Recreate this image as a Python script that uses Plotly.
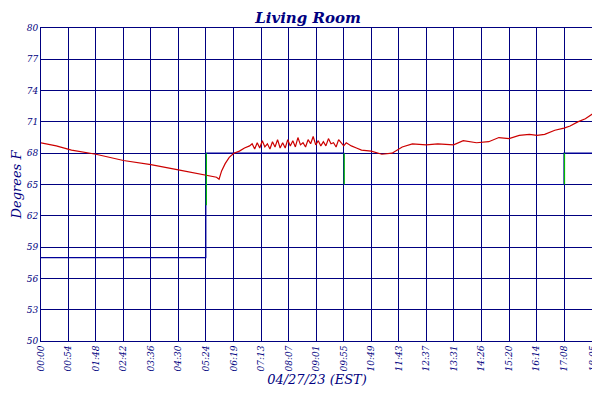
import plotly.graph_objects as go

# Living Room temperature (minutes since 00:00, degrees F)
room_t = [0, 30, 60, 108, 162, 216, 270, 324, 335, 345, 350, 355, 362, 370, 379, 390, 400, 410, 415, 420, 425, 430, 435, 440, 445, 450,
          455, 460, 465, 470, 475, 480, 485, 490, 495, 500, 505, 510, 515, 520, 525, 530, 535, 540, 545, 550, 555, 560, 565, 570,
          575, 580, 585, 590, 595, 600, 610, 620, 630, 649, 670, 690, 710, 730, 757, 780, 811, 830, 856, 880, 900, 920, 940, 960,
          975, 990, 1010, 1028, 1040, 1055, 1070, 1085]
room_v = [69.0, 68.7, 68.3, 67.9, 67.3, 66.9, 66.4, 65.9, 65.8, 65.7, 65.5, 66.3, 67.0, 67.6, 68.0, 68.2, 68.5, 68.7, 68.9, 68.4, 69.0, 68.5, 69.2, 68.6, 68.9, 68.4,
          69.1, 68.6, 69.3, 68.5, 69.0, 68.5, 69.3, 68.7, 69.2, 68.6, 69.5, 68.8, 69.0, 68.6, 69.3, 68.9, 69.6, 68.8, 69.2, 68.7, 69.1, 68.7, 69.4, 68.9,
          69.0, 68.6, 69.3, 69.0, 68.7, 69.0, 68.7, 68.5, 68.3, 68.2, 67.9, 68.0, 68.6, 68.9, 68.8, 68.9, 68.8, 69.2, 69.0, 69.1, 69.5, 69.4, 69.7, 69.8,
          69.7, 69.8, 70.2, 70.4, 70.6, 71.0, 71.3, 71.8]

# Setback (thermostat setpoint)
set_t = [0, 324, 324, 595, 595, 1028, 1028, 1085]
set_v = [58, 58, 68, 68, 65, 65, 68, 68]
# Setback transitions (shown in green)
jump_t = [325, 325, None, 596, 596, None, 1029, 1029]
jump_v = [63, 68, None, 68, 65, None, 65, 68]

tick_vals = [0, 54, 108, 162, 216, 270, 324, 379, 433, 487, 541, 595, 649, 703, 757, 811, 866, 920, 974, 1028, 1085]
tick_text = ["00:00", "00:54", "01:48", "02:42", "03:36", "04:30", "05:24", "06:19", "07:13", "08:07", "09:01", "09:55",
             "10:49", "11:43", "12:37", "13:31", "14:26", "15:20", "16:14", "17:08", "18:05"]
y_ticks = [50, 53, 56, 59, 62, 65, 68, 71, 74, 77, 80]

navy = "#000080"
fig = go.Figure()
fig.add_trace(go.Scatter(x=set_t, y=set_v, mode="lines", line=dict(color="#000099", width=1.2), showlegend=False, hoverinfo="skip"))
fig.add_trace(go.Scatter(x=room_t, y=room_v, mode="lines", name="<i>Living Room</i>", line=dict(color="#cc0000", width=1.2)))
fig.add_trace(go.Scatter(x=jump_t, y=jump_v, mode="lines", name="<i>Setback</i>", line=dict(color="#00bb00", width=1.2)))
fig.add_trace(go.Scatter(x=[0, 1085], y=[50, 50], mode="lines", line=dict(width=0), showlegend=False, hoverinfo="skip", yaxis="y2"))

font = dict(family="DejaVu Serif, Liberation Serif, serif", color=navy)
fig.update_layout(
    width=600, height=400, margin=dict(l=33, r=15, t=20, b=67, autoexpand=False),
    paper_bgcolor="white", plot_bgcolor="white", font=font,
    title=dict(text="<i><b>Living Room</b></i>", x=0.5, y=0.99, yanchor="top", font=dict(size=15, **font)),
    xaxis=dict(range=[0, 1085], tickvals=tick_vals, ticktext=["<i>%s</i>" % t for t in tick_text], tickangle=-90,
               tickfont=dict(size=9, **font), gridcolor=navy, gridwidth=1, showline=True, linecolor=navy, mirror=True,
               zeroline=False, automargin=False, title=dict(text="<i>04/27/23 (EST)</i>", font=dict(size=13, **font), standoff=4)),
    yaxis=dict(range=[50, 80], tickvals=y_ticks, ticktext=["<i>%d</i>" % v for v in y_ticks], tickfont=dict(size=9, **font),
               gridcolor=navy, showline=True, linecolor=navy, mirror=True, zeroline=False, automargin=False,
               title=dict(text="<i>Degrees F</i>", font=dict(size=13, **font), standoff=2)),
    yaxis2=dict(range=[50, 80], overlaying="y", side="right", tickvals=y_ticks, ticktext=["<i>%d</i>" % v for v in y_ticks],
                tickfont=dict(size=9, **font), showgrid=False, zeroline=False, automargin=False),
    legend=dict(orientation="h", x=0.5, xanchor="center", y=-0.17, yanchor="top", font=dict(size=11, **font)),
)
fig.write_html("out.html")
